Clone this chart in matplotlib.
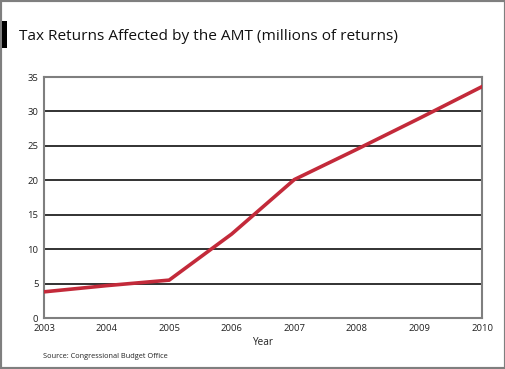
import matplotlib
matplotlib.use("Agg")
import matplotlib.pyplot as plt
from matplotlib.patches import Rectangle

plt.rcParams['font.family'] = ['Open Sans', 'DejaVu Sans']

# donnees (millions de declarations)
annees = [2003, 2004, 2005, 2006, 2007, 2008, 2009, 2010]
declarations = [3.8, 4.7, 5.5, 12.2, 20.1, 24.5, 29.0, 33.6]
graduations_y = [0, 5, 10, 15, 20, 25, 30, 35]

rouge = "#c32a3a"
gris = "#7f7f7f"

fig = plt.figure(figsize=(5.06, 3.69), dpi=100)
W, H = 506, 369
ax = fig.add_axes([44 / W, 1 - 318 / H, (482 - 44) / W, (318 - 77) / H])

# cadre gris autour de la figure
fig.patches.append(Rectangle((0, 0), 1, 1, transform=fig.transFigure, fill=False,
                             edgecolor=gris, linewidth=3, zorder=0))
# petit bloc noir devant le titre
fig.patches.append(Rectangle((2 / W, 1 - 48 / H), 5 / W, 27 / H, transform=fig.transFigure,
                             facecolor="black", edgecolor="none"))
fig.text(19 / W, 1 - 36 / H, "Tax Returns Affected by the AMT (millions of returns)",
         fontsize=11.1, va="center", ha="left", color="#111111")

for v in graduations_y[1:-1]:
    ax.axhline(v, color="#222222", linewidth=1.3, zorder=1)

ax.plot(annees, declarations, color=rouge, linewidth=2.6, zorder=3, solid_joinstyle="miter")

ax.set_xlim(2003, 2010)
ax.set_ylim(0, 35)
ax.set_xticks(annees)
ax.set_yticks(graduations_y)
ax.tick_params(length=0, labelsize=6.8, colors="#222222", pad=4)
for s in ax.spines.values():
    s.set_color(gris)
    s.set_linewidth(1.5)
ax.set_xlabel("Year", fontsize=7.2, color="#222222", labelpad=3)

fig.text(43 / W, 1 - 356 / H, "Source: Congressional Budget Office", fontsize=5.3,
         va="center", ha="left", color="#222222")

fig.savefig("out.png", dpi=100)
